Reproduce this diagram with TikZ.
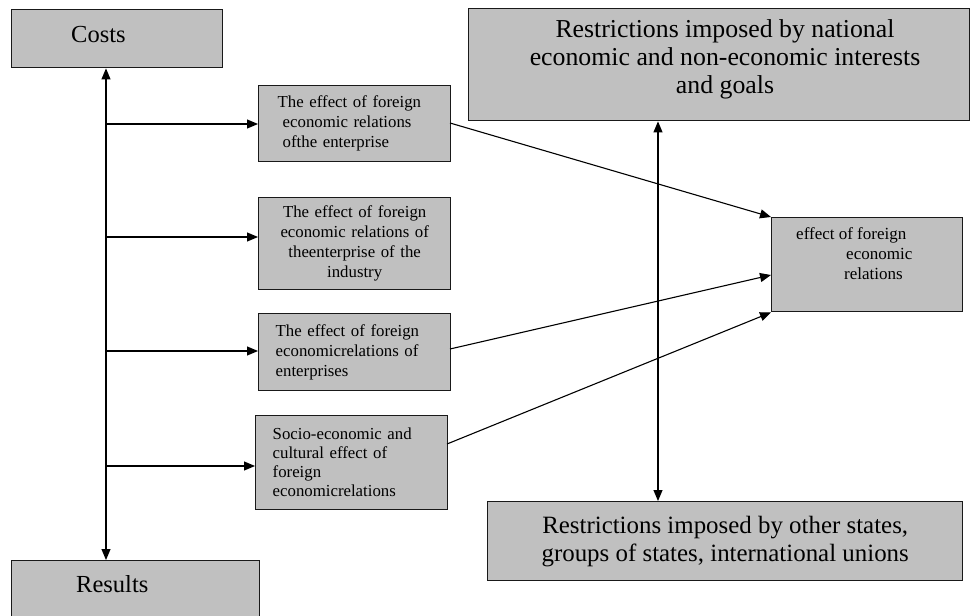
\documentclass[tikz,border=0pt]{standalone}
\usepackage{fontspec}
\setmainfont{Liberation Serif}
\usetikzlibrary{arrows.meta}
\definecolor{boxgray}{RGB}{192,192,192}
\definecolor{edgecol}{RGB}{25,25,25}
\begin{document}
\begin{tikzpicture}[x=1pt,y=-1pt,
  box/.style={draw=edgecol, line width=1.4pt, fill=boxgray, inner sep=0pt, anchor=north west},
  big/.style={font=\fontsize{24.5}{28}\selectfont},
  small/.style={font=\fontsize{16.8}{20}\selectfont},
  lbl/.style={inner sep=0pt},
  arr/.style={line width=1.1pt, -{Triangle[length=11pt,width=9pt]}},
  dbl/.style={line width=1.1pt, {Triangle[length=11pt,width=9pt]}-{Triangle[length=11pt,width=9pt]}}
]
\useasboundingbox (0,0) rectangle (970,616);

% left column
\node[box, minimum width=211pt, minimum height=58pt] (costs) at (11,9) {};
\node[lbl, big, anchor=base west] (costsT) at (71,42) {Costs};
\node[box, minimum width=248pt, minimum height=70pt] (results) at (11,560) {};
\node[lbl, big, anchor=base west] (resultsT) at (76,592) {Results};

% middle boxes
\node[box, small, minimum width=192pt, minimum height=76pt, text width=192pt, align=left] (b1) at (258,85)
  {\hspace*{19pt}The effect of foreign\\\hspace*{24pt}economic relations\\\hspace*{24pt}ofthe enterprise};
\node[box, small, minimum width=192pt, minimum height=92pt, text width=180pt, align=center] (b2) at (258,197)
  {The effect of foreign\\economic relations of\\theenterprise of the\\industry};
\node[box, small, minimum width=192pt, minimum height=77pt, text width=192pt, align=left] (b3) at (258,313)
  {\hspace*{17pt}The effect of foreign\\\hspace*{17pt}economicrelations of\\\hspace*{17pt}enterprises};
\node[box, small, font=\fontsize{16.8}{19}\selectfont, minimum width=192pt, minimum height=94pt, text width=192pt, align=left] (b4) at (255,415)
  {\hspace*{17pt}Socio-economic and\\\hspace*{17pt}cultural effect of\\\hspace*{17pt}foreign\\\hspace*{17pt}economicrelations};

% right boxes
\node[box, minimum width=501pt, minimum height=112pt] (top) at (468,8) {};
\node[lbl, font=\fontsize{25.8}{28}\selectfont, align=center, anchor=north] (topT) at (725,19.6)
  {Restrictions imposed by national\\economic and non-economic interests\\and goals};
\node[box, minimum width=191pt, minimum height=94pt] (eff) at (771,217) {};
\node[lbl, small, font=\fontsize{17}{20}\selectfont, align=left, anchor=north west] (effT) at (796,227.5)
  {effect of foreign\\\hspace*{50pt}economic\\\hspace*{48pt}relations};
\node[box, font=\fontsize{24.9}{28}\selectfont, minimum width=475pt, minimum height=79pt, align=center] (bottom) at (487,501)
  {Restrictions imposed by other states,\\groups of states, international unions};

% spine
\coordinate (spine) at (106,300);
\draw[dbl] (costs.south -| spine) -- (results.north -| spine);
\coordinate (h1) at (106,124);
\coordinate (h2) at (106,237);
\coordinate (h3) at (106,351);
\coordinate (h4) at (106,466);
\draw[arr] (h1) -- (h1 -| b1.west);
\draw[arr] (h2) -- (h2 -| b2.west);
\draw[arr] (h3) -- (h3 -| b3.west);
\draw[arr] (h4) -- (h4 -| b4.west);

% to effect box
\coordinate (s1) at (450,123);
\coordinate (s3) at (450,349);
\coordinate (s4) at (447,444);
\coordinate (e2) at (771,275);
\draw[arr] (s1) -- (eff.north west);
\draw[arr] (s3) -- (e2);
\draw[arr] (s4) -- (eff.south west);

% restrictions link
\coordinate (rx) at (658,300);
\draw[dbl] (top.south -| rx) -- (bottom.north -| rx);
\end{tikzpicture}
\end{document}
